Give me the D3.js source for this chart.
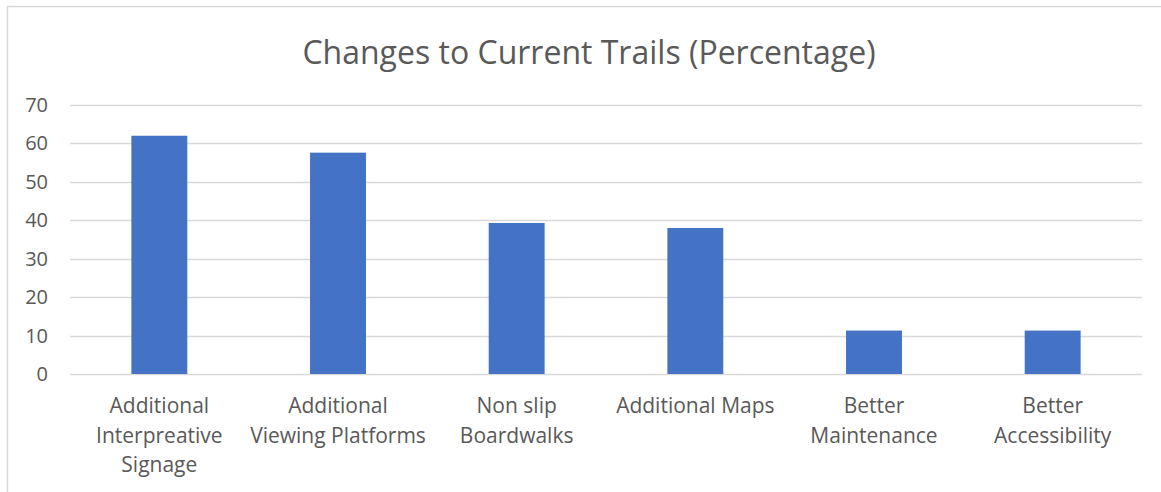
<!DOCTYPE html>
<html>
  <head>
    <meta charset="utf-8" />
    <title>Changes to Current Trails</title>
    <script src="https://d3js.org/d3.v7.min.js"></script>
    <style>
        body {
            margin:0;
            background:#fff;
        }
        text {
            font-family: "Open Sans", sans-serif;
            fill: #595959;
        }
    </style>
  </head>
  <body>
    <svg id="viz"></svg>

    <script>

        // data
        var categories = [
            "Additional\nInterpreative\nSignage",
            "Additional\nViewing Platforms",
            "Non slip\nBoardwalks",
            "Additional Maps",
            "Better\nMaintenance",
            "Better\nAccessibility"
        ];
        var values = [62, 57.6, 39.3, 38, 11.3, 11.3];
        var yTicks = [0, 10, 20, 30, 40, 50, 60, 70];
        var title = "Changes to Current Trails (Percentage)";

        var width = 1161;
        var height = 492;
        var margin = {top: 105, right: 19, bottom: 118, left: 70};

        var svg = d3.select("#viz")
            .attr("width", width)
            .attr("height", height);

        // chart area border
        svg.append("rect")
            .attr("x", 7.5)
            .attr("y", 6.5)
            .attr("width", 1170)
            .attr("height", 500)
            .attr("fill", "none")
            .attr("stroke", "#d9d9d9")
            .attr("stroke-width", 1.5);

        svg.append("text")
            .attr("x", 589)
            .attr("y", 64)
            .attr("text-anchor", "middle")
            .style("font-size", "32px")
            .text(title);

        var x = d3.scaleBand()
            .domain(categories)
            .range([margin.left, width - margin.right])
            .paddingInner(0.687)
            .paddingOuter(0.3435);

        var y = d3.scaleLinear()
            .domain([0, 70])
            .range([height - margin.bottom, margin.top]);

        // gridlines
        svg.append("g")
            .selectAll("line")
            .data(yTicks)
            .enter().append("line")
            .attr("x1", margin.left)
            .attr("x2", width - margin.right)
            .attr("y1", function (d) { return Math.round(y(d)) + 0.5; })
            .attr("y2", function (d) { return Math.round(y(d)) + 0.5; })
            .attr("stroke", "#d9d9d9")
            .attr("stroke-width", 1.3);

        // y tick labels
        svg.append("g")
            .selectAll("text")
            .data(yTicks)
            .enter().append("text")
            .attr("x", 48)
            .attr("y", function (d) { return y(d); })
            .attr("dy", "0.35em")
            .attr("text-anchor", "end")
            .style("font-size", "20px")
            .text(function (d) { return d; });

        // bars
        svg.append("g")
            .selectAll("rect")
            .data(values)
            .enter().append("rect")
            .attr("x", function (d, i) { return x(categories[i]); })
            .attr("y", function (d) { return y(d); })
            .attr("width", x.bandwidth())
            .attr("height", function (d) { return y(0) - y(d); })
            .attr("fill", "#4472c4");

        // category labels
        var labels = svg.append("g")
            .selectAll("text")
            .data(categories)
            .enter().append("text")
            .attr("text-anchor", "middle")
            .attr("transform", function (d) {
                return "translate(" + (x(d) + x.bandwidth() / 2) + "," + 413 + ")";
            })
            .style("font-size", "21px");

        labels.selectAll("tspan")
            .data(function (d) { return d.split("\n"); })
            .enter().append("tspan")
            .attr("x", 0)
            .attr("y", function (d, i) { return i * 29.5; })
            .text(function (d) { return d; });

    </script>
  </body>
</html>
